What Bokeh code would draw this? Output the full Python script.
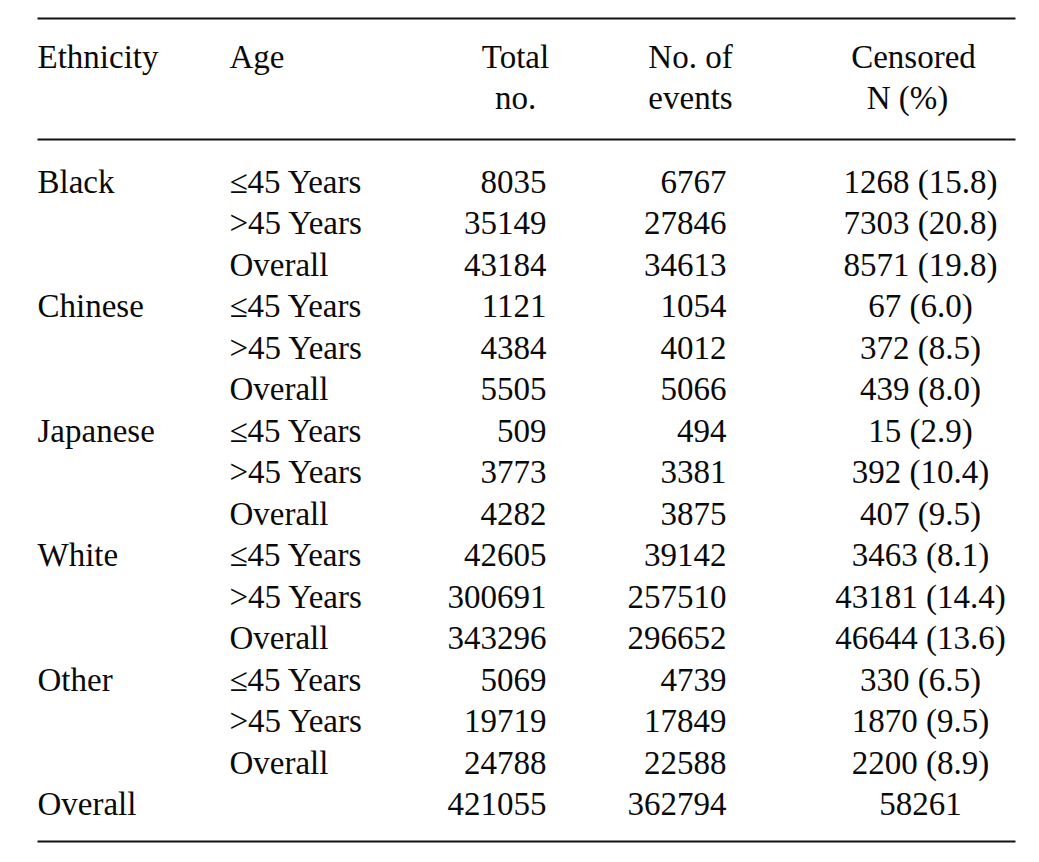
from bokeh.plotting import figure
from bokeh.models import Range1d, ColumnDataSource
from bokeh.core.properties import value
from bokeh.embed import file_html
from bokeh.resources import INLINE

# ---- data ----
ethnicity = ["Black", "", "", "Chinese", "", "", "Japanese", "", "", "White", "", "",
             "Other", "", "", "Overall"]
age = ["≤45 Years", ">45 Years", "Overall"] * 5 + [""]
total_no = [8035, 35149, 43184, 1121, 4384, 5505, 509, 3773, 4282,
            42605, 300691, 343296, 5069, 19719, 24788, 421055]
events = [6767, 27846, 34613, 1054, 4012, 5066, 494, 3381, 3875,
          39142, 257510, 296652, 4739, 17849, 22588, 362794]
censored_n = [1268, 7303, 8571, 67, 372, 439, 15, 392, 407,
              3463, 43181, 46644, 330, 1870, 2200, 58261]
censored_pct = [15.8, 20.8, 19.8, 6.0, 8.5, 8.0, 2.9, 10.4, 9.5,
                8.1, 14.4, 13.6, 6.5, 9.5, 8.9, None]
header_top = ["Ethnicity", "Age", "Total", "No. of", "Censored"]
header_bot = ["", "", "no.", "events", "N (%)"]

# ---- layout ----
W, H = 1023, 846
OFF = 1
FONT = value("Liberation Serif")
FS = "33px"
ROW0, STEP = 182.0, 41.5
HDR1, HDR2 = 57.0, 98.5

p = figure(width=W, height=H, output_backend="svg", toolbar_location=None,
           x_range=Range1d(OFF, OFF + W), y_range=Range1d(OFF + H, OFF),
           min_border=0, outline_line_color=None)
p.axis.visible = False
p.grid.visible = False
p.background_fill_color = "white"
p.border_fill_color = "white"

ys = [ROW0 + i * STEP for i in range(len(total_no))]
cens_txt = [f"{n} ({pct:.1f})" if pct is not None else f"{n}"
            for n, pct in zip(censored_n, censored_pct)]

def txt(xs, ys_, texts, align):
    src = ColumnDataSource(dict(x=xs, y=ys_, t=texts))
    p.text("x", "y", text="t", source=src, text_font=FONT, text_font_size=FS,
           text_align=align, text_baseline="middle", text_color="#0a0a0a")

n = len(ys)
txt([38] * n, ys, ethnicity, "left")
txt([230] * n, ys, age, "left")
txt([547] * n, ys, [str(v) for v in total_no], "right")
txt([727] * n, ys, [str(v) for v in events], "right")
txt([921] * n, ys, cens_txt, "center")

# header
txt([38, 230], [HDR1, HDR1], header_top[:2], "left")
txt([516, 691, 914], [HDR1] * 3, header_top[2:], "center")
txt([516, 691, 908], [HDR2] * 3, header_bot[2:], "center")

# rules
for yy in (19, 140, 842):
    p.line([38, 1016], [yy, yy], line_color="#111111", line_width=2)

open("out.html", "w").write(file_html(p, INLINE))
